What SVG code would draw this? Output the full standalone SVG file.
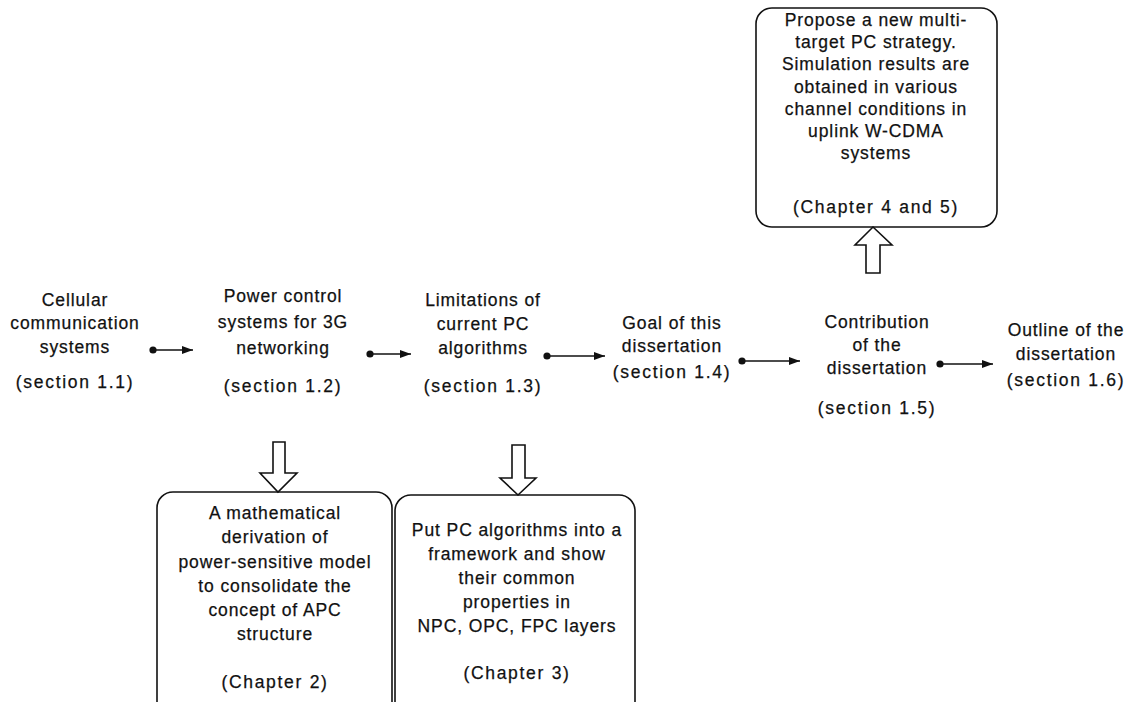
<svg xmlns="http://www.w3.org/2000/svg" width="1129" height="702" viewBox="0 0 1129 702">
<style>
text{font-family:"Liberation Sans",Arial,sans-serif;font-size:17.5px;fill:#111;stroke:#111;stroke-width:0.25;text-anchor:middle;letter-spacing:0.9px}
.sec{letter-spacing:1.7px}
.box{fill:none;stroke:#111;stroke-width:1.6}
.con{stroke:#111;stroke-width:1.6;fill:none}
.blk{fill:none;stroke:#111;stroke-width:1.6;stroke-linejoin:miter}
</style>
<defs>
<marker id="dot" markerWidth="8" markerHeight="8" refX="4" refY="4" markerUnits="userSpaceOnUse"><circle cx="4" cy="4" r="3.6" fill="#111"/></marker>
<marker id="arr" markerWidth="12" markerHeight="10" refX="11" refY="5" markerUnits="userSpaceOnUse" orient="auto"><path d="M0,1 L11,5 L0,9 Z" fill="#111"/></marker>
</defs>
<g id="n1"><text x="75" y="306"><tspan x="75">Cellular</tspan><tspan x="75" dy="23">communication</tspan><tspan x="75" dy="24">systems</tspan></text><text class="sec" x="75" y="388">(section 1.1)</text></g>
<g id="n2"><text x="283" y="302"><tspan x="283">Power control</tspan><tspan x="283" dy="26">systems for 3G</tspan><tspan x="283" dy="26">networking</tspan></text><text class="sec" x="283" y="392">(section 1.2)</text></g>
<g id="n3"><text x="483" y="306"><tspan x="483">Limitations of</tspan><tspan x="483" dy="24">current PC</tspan><tspan x="483" dy="24">algorithms</tspan></text><text class="sec" x="483" y="392">(section 1.3)</text></g>
<g id="n4"><text x="672" y="329"><tspan x="672">Goal of this</tspan><tspan x="672" dy="23">dissertation</tspan></text><text class="sec" x="672" y="378">(section 1.4)</text></g>
<g id="n5"><text x="877" y="328"><tspan x="877">Contribution</tspan><tspan x="877" dy="23">of the</tspan><tspan x="877" dy="23">dissertation</tspan></text><text class="sec" x="877" y="414">(section 1.5)</text></g>
<g id="n6"><text x="1066" y="336"><tspan x="1066">Outline of the</tspan><tspan x="1066" dy="24">dissertation</tspan></text><text class="sec" x="1066" y="386">(section 1.6)</text></g>
<g id="top">
<rect class="box" x="756" y="8" width="241" height="219" rx="16"/>
<text x="876" y="26"><tspan x="876">Propose a new multi-</tspan><tspan x="876" dy="22">target PC strategy.</tspan><tspan x="876" dy="22">Simulation results are</tspan><tspan x="876" dy="23">obtained in various</tspan><tspan x="876" dy="22">channel conditions in</tspan><tspan x="876" dy="22">uplink W-CDMA</tspan><tspan x="876" dy="22">systems</tspan></text>
<text class="sec" x="876" y="213">(Chapter 4 and 5)</text>
</g>
<g id="ch2">
<rect class="box" x="157" y="492" width="235" height="230" rx="16"/>
<text x="275" y="519"><tspan x="275">A mathematical</tspan><tspan x="275" dy="24">derivation of</tspan><tspan x="275" dy="25">power-sensitive model</tspan><tspan x="275" dy="24">to consolidate the</tspan><tspan x="275" dy="24">concept of APC</tspan><tspan x="275" dy="24">structure</tspan></text>
<text class="sec" x="275" y="688">(Chapter 2)</text>
</g>
<g id="ch3">
<rect class="box" x="395" y="495" width="240" height="230" rx="16"/>
<text x="517" y="536"><tspan x="517">Put PC algorithms into a</tspan><tspan x="517" dy="24">framework and show</tspan><tspan x="517" dy="24">their common</tspan><tspan x="517" dy="24">properties in</tspan><tspan x="517" dy="24">NPC, OPC, FPC layers</tspan></text>
<text class="sec" x="517" y="679">(Chapter 3)</text>
</g>
<g id="connectors">
<line class="con" x1="153" y1="350" x2="193" y2="350" marker-start="url(#dot)" marker-end="url(#arr)"/>
<line class="con" x1="370" y1="354" x2="411" y2="354" marker-start="url(#dot)" marker-end="url(#arr)"/>
<line class="con" x1="547" y1="356" x2="605" y2="356" marker-start="url(#dot)" marker-end="url(#arr)"/>
<line class="con" x1="742" y1="361" x2="800" y2="361" marker-start="url(#dot)" marker-end="url(#arr)"/>
<line class="con" x1="940" y1="364" x2="993" y2="364" marker-start="url(#dot)" marker-end="url(#arr)"/>
<path class="blk" d="M873,227 L892,245 L880,245 L880,273 L866,273 L866,245 L855,245 Z"/>
<path class="blk" d="M273,442 L285,442 L285,473 L297,473 L278,492 L260,473 L273,473 Z"/>
<path class="blk" d="M512,445 L525,445 L525,478 L536,478 L518,495 L500,478 L512,478 Z"/>
</g>
</svg>
